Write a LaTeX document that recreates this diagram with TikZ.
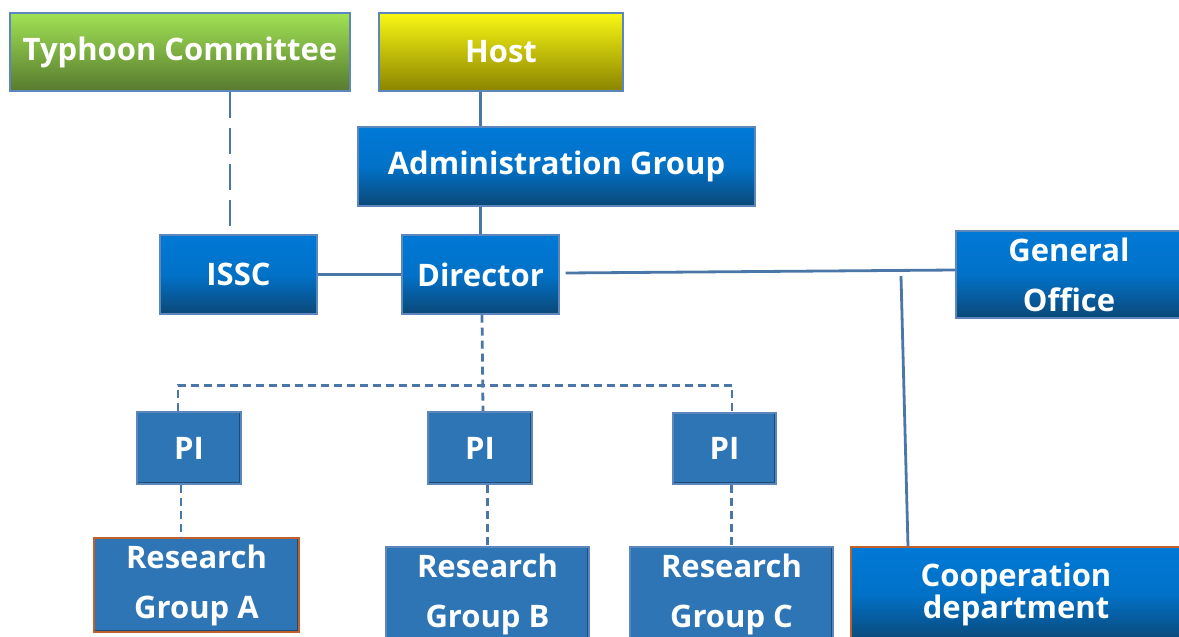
\documentclass[tikz,border=0pt]{standalone}
\usepackage{fontspec}
\setmainfont{Open Sans}
\usetikzlibrary{calc}
\definecolor{lineblue}{HTML}{4A76A8}
\definecolor{bluetop}{HTML}{0079D6}
\definecolor{bluebot}{HTML}{0B4878}
\definecolor{greentop}{HTML}{A0E255}
\definecolor{greenbot}{HTML}{587A2E}
\definecolor{yellowtop}{HTML}{F9F714}
\definecolor{yellowbot}{HTML}{8A8400}
\definecolor{piblue}{HTML}{2E75B6}
\definecolor{boxedge}{HTML}{5B87BD}
\definecolor{orangeedge}{HTML}{C0602A}
\tikzset{
  box/.style={rectangle, inner sep=0pt, text=white, font=\fontsize{31}{50}\selectfont\bfseries, align=center, line width=1.2pt},
  gradblue/.style={box, draw=boxedge, top color=bluetop, bottom color=bluebot, middle color=bluetop!85!bluebot},
  gradgreen/.style={box, draw=boxedge, top color=greentop, bottom color=greenbot},
  gradyellow/.style={box, draw=boxedge, top color=yellowtop, bottom color=yellowbot},
  flatblue/.style={box, draw=boxedge, fill=piblue,
    path picture={\draw[black, opacity=0.35, line width=5pt]
      (path picture bounding box.south west) -- (path picture bounding box.south east) -- (path picture bounding box.north east);}},
  conn/.style={draw=lineblue, line width=2.8pt},
  longdash/.style={conn, dash pattern=on 26pt off 10pt},
  treedash/.style={conn, dash pattern=on 8pt off 5pt},
}
\begin{document}
\begin{tikzpicture}[x=1pt,y=-1pt]
\useasboundingbox (0,0) rectangle (1179,637);
% top row
\node[gradgreen, minimum width=340, minimum height=78] (tc) at (180,52) {Typhoon Committee};
\node[gradyellow, minimum width=244, minimum height=78] (host) at (501,52) {Host};
\node[gradblue, minimum width=397, minimum height=79] (admin) at (556.5,166.5) {Administration Group};
% middle row
\node[gradblue, minimum width=157, minimum height=79] (issc) at (238.5,274.5) {ISSC};
\node[gradblue, minimum width=157, minimum height=79] (dir) at (480.5,274.5) {Director};
\node[gradblue, minimum width=226, minimum height=87] (go) at (1069,274.5) {General\\Office};
% PI row
\node[flatblue, minimum width=104, minimum height=72] (piA) at (189,448) {PI};
\node[flatblue, minimum width=104, minimum height=72] (piB) at (480,448) {PI};
\node[flatblue, minimum width=103, minimum height=71] (piC) at (724.5,448.5) {PI};
% bottom row
\node[flatblue, draw=orangeedge, minimum width=205, minimum height=94] (rgA) at (196.5,585) {Research\\Group A};
\node[flatblue, minimum width=203, minimum height=94] (rgB) at (487.5,594) {Research\\Group B};
\node[flatblue, minimum width=203, minimum height=94] (rgC) at (731.5,594) {Research\\Group C};
\node[gradblue, draw=orangeedge, minimum width=330, minimum height=94, font=\fontsize{31}{32}\selectfont\bfseries] (coop) at (1016,594) {Cooperation\\department};
% connectors
\draw[conn] (host.south -| dir.north) -- (admin.north -| dir.north);
\draw[conn] (admin.south -| dir.north) -- (dir.north);
\coordinate (tcx) at ($(tc.south)+(50,0)$);
\draw[longdash] (tcx) -- (tcx |- issc.north);
\draw[conn] (issc.east) -- (dir.west);
\draw[conn] ($(dir.east)+(6,-1.5)$) -- ($(go.west)+(0,-4.5)$);
\coordinate (jtop) at (901,276);
\draw[conn] (jtop) -- ($(coop.north)+(-108,0)$);
\draw[treedash] ($(dir.south)+(1.5,0)$) -- ($(piB.north)+(3,0)$);
\draw[treedash] ($(piA.north)+(-11,0)$) |- ($(piC.north)+(7.5,-27)$) -- ($(piC.north)+(7.5,0)$);
\draw[treedash] (piA.south) ++(-8,0) coordinate (pa) -- (pa |- rgA.north);
\draw[treedash] (piB.south -| rgB.north) -- (rgB.north);
\draw[treedash] (piC.south -| rgC.north) -- (rgC.north);
\end{tikzpicture}
\end{document}
